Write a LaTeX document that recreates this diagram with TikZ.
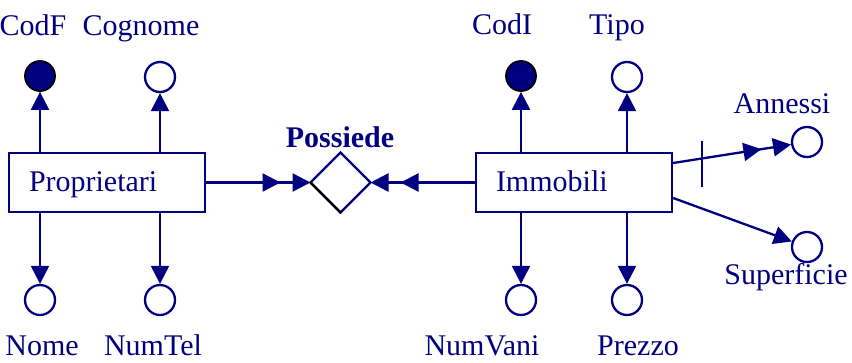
\documentclass[tikz,border=0pt]{standalone}
\usepackage{fontspec}
\setmainfont{Liberation Serif}
\usetikzlibrary{arrows.meta,shapes.geometric,calc}
\definecolor{erblue}{RGB}{0,0,128}
\begin{document}
\begin{tikzpicture}[x=1pt,y=-1pt,
  every node/.style={font=\fontsize{30}{36}\selectfont, text=erblue},
  conn/.style={draw=erblue, line width=2.3pt},
  tip/.style={-{Triangle[length=18pt,width=18pt]}},
  dbl/.style={-{Triangle[length=18pt,width=18pt,sep=12pt]Triangle[length=18pt,width=18pt]}},
  entity/.style={draw=erblue, line width=2.3pt, rectangle, minimum width=196pt, minimum height=59pt,
     inner xsep=20pt, text width=156pt, align=left, text height=22pt, text depth=4pt, inner ysep=0pt},
  rel/.style={draw=erblue, line width=2.3pt, diamond, minimum width=60pt, minimum height=60pt, inner sep=0pt, outer sep=0pt},
  attr/.style={circle, draw=erblue, line width=2.3pt, fill=white, minimum size=30pt, inner sep=0pt},
  keyattr/.style={circle, draw=black, line width=1.8pt, fill=erblue, minimum size=30pt, inner sep=0pt},
  lbl/.style={anchor=base, inner sep=0pt}
]
\useasboundingbox (0,0) rectangle (852,362);

% entities and relation
\node[entity] (prop) at (107,182.5) {Proprietari};
\node[entity] (imm) at (574,182.5) {Immobili};
\node[rel] (poss) at (340.5,182.5) {};
\node[lbl, font=\fontsize{30}{36}\selectfont\bfseries] (possl) at (340,147) {Possiede};
\draw[black, line width=2.3pt, line cap=round] (poss.west) -- (poss.south);

% attribute circles
\node[keyattr] (codf) at (40,76) {};
\node[attr] (cogn) at (160,77) {};
\node[attr] (nome) at (40,300) {};
\node[attr] (numtel) at (160,300) {};
\node[keyattr] (codi) at (521,76) {};
\node[attr] (tipo) at (627,77) {};
\node[attr] (numvani) at (521,300) {};
\node[attr] (prezzo) at (627,300) {};
\node[attr] (ann) at (807,142) {};
\node[attr] (sup) at (807,247) {};

% labels
\node[lbl] (codfl) at (33,35) {CodF};
\node[lbl] (cognl) at (141,35) {Cognome};
\node[lbl] (nomel) at (42,355) {Nome};
\node[lbl] (numtell) at (153,355) {NumTel};
\node[lbl] (codil) at (502,34) {CodI};
\node[lbl] (tipol) at (617,34) {Tipo};
\node[lbl] (numvanil) at (482,355) {NumVani};
\node[lbl] (prezzol) at (638,355) {Prezzo};
\node[lbl] (annl) at (782,113) {Annessi};
\node[lbl] (supl) at (786,284) {Superficie};

% connectors
\draw[conn, tip] (prop.north -| codf) -- (codf.south);
\draw[conn, tip] (prop.north -| cogn) -- (cogn.south);
\draw[conn, tip] (prop.south -| nome) -- (nome.north);
\draw[conn, tip] (prop.south -| numtel) -- (numtel.north);
\draw[conn, tip] (imm.north -| codi) -- (codi.south);
\draw[conn, tip] (imm.north -| tipo) -- (tipo.south);
\draw[conn, tip] (imm.south -| numvani) -- (numvani.north);
\draw[conn, tip] (imm.south -| prezzo) -- (prezzo.north);

\draw[conn, dbl] (prop.east) -- (poss.west);
\draw[conn, dbl] (imm.west) -- (poss.east);

\coordinate (annstart) at ([yshift=19.5pt]imm.east);
\coordinate (supstart) at ([yshift=-15.5pt]imm.east);
\draw[conn, dbl] (annstart) -- (ann);
\draw[conn, tip] (supstart) -- (sup);

\coordinate (tick1) at (702,141);
\coordinate (tick2) at (702,187);
\draw[conn] (tick1) -- (tick2);
\end{tikzpicture}
\end{document}
